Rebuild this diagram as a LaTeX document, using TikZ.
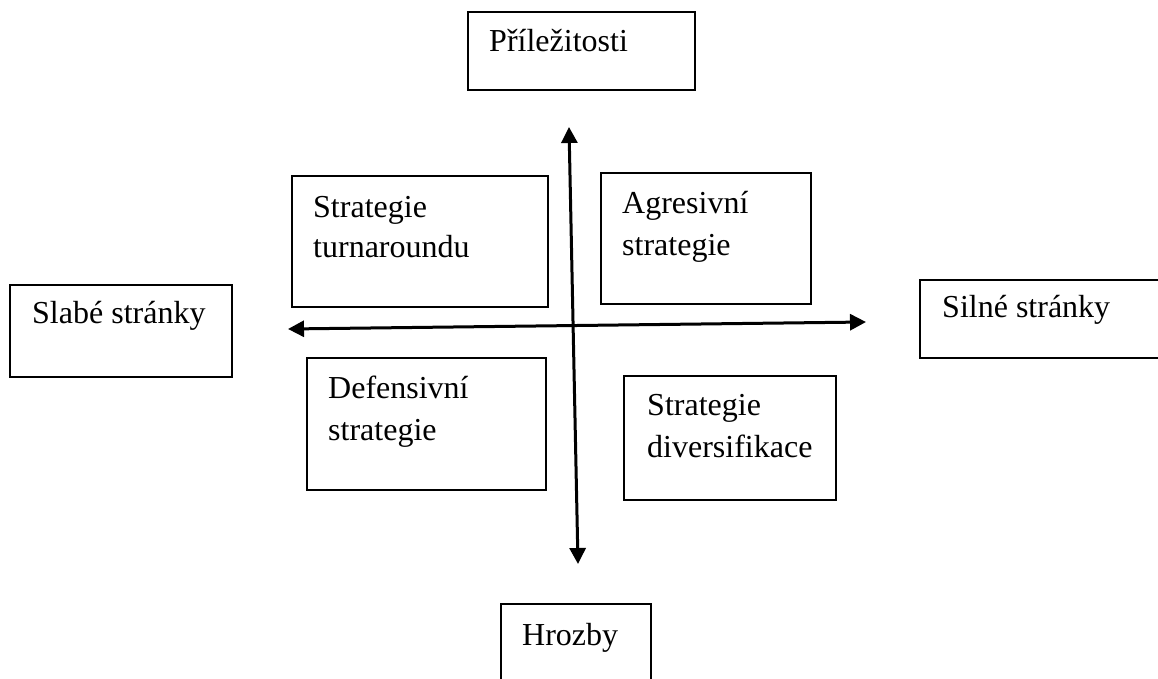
\documentclass[tikz,border=0pt]{standalone}
\usepackage{fontspec}
\setmainfont{Liberation Serif}
\usetikzlibrary{arrows.meta}
\tikzset{
  box/.style={draw=black, line width=1.6pt, fill=none, inner sep=0pt},
  lbl/.style={anchor=base west, inner sep=0pt, font=\fontsize{32}{38}\selectfont},
  axis/.style={line width=3pt, {Triangle[length=16pt,width=16pt]}-{Triangle[length=16pt,width=16pt]}}
}
\begin{document}
\begin{tikzpicture}[x=1pt,y=-1pt]
\useasboundingbox (0,0) rectangle (1158,679);
% outer boxes
\draw[box] (468,12) rectangle (695,90);
\node[lbl] (opp) at (489,52) {Příležitosti};
\draw[box] (10,285) rectangle (232,377);
\node[lbl] (weak) at (32,323) {Slabé stránky};
\draw[box] (920,280) rectangle (1175,358);
\node[lbl] (strong) at (942,317) {Silné stránky};
\draw[box] (501,604) rectangle (651,690);
\node[lbl] (threat) at (522,645) {Hrozby};
% inner boxes
\draw[box] (292,176) rectangle (548,307);
\node[lbl] (t1) at (313,217) {Strategie};
\node[lbl] (t2) at (313,257) {turnaroundu};
\draw[box] (601,173) rectangle (811,304);
\node[lbl] (a1) at (622,213) {Agresivní};
\node[lbl] (a2) at (622,255) {strategie};
\draw[box] (307,358) rectangle (546,490);
\node[lbl] (d1) at (328,398) {Defensivní};
\node[lbl] (d2) at (328,440) {strategie};
\draw[box] (624,376) rectangle (836,500);
\node[lbl] (s1) at (647,415) {Strategie};
\node[lbl] (s2) at (647,457) {diversifikace};
% axes
\coordinate (vtop) at (569,127);
\coordinate (vbot) at (578,564);
\coordinate (hleft) at (288,329);
\coordinate (hright) at (866,322);
\draw[axis] (vtop) -- (vbot);
\draw[axis] (hleft) -- (hright);
\end{tikzpicture}
\end{document}
